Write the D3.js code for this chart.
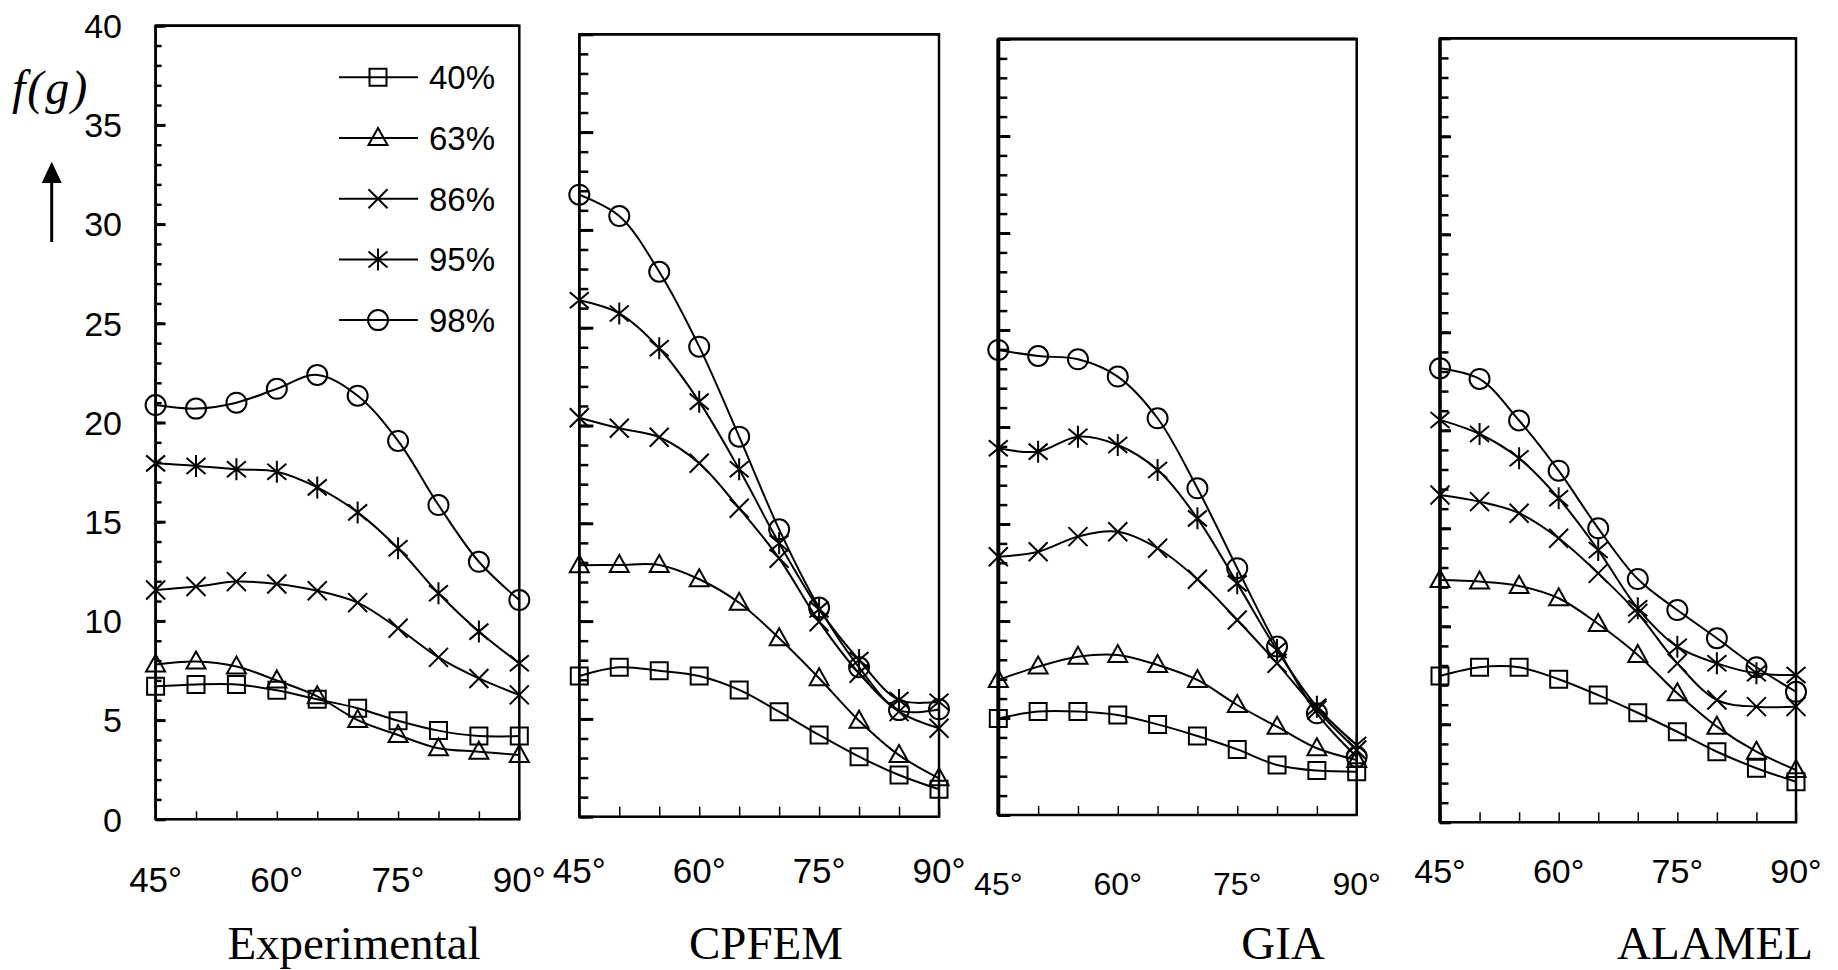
<!DOCTYPE html>
<html>
<head>
<meta charset="utf-8">
<script src="https://cdn.jsdelivr.net/npm/d3@7"></script>
<style>
body { margin: 0; background: #fff; }
svg { display: block; }
</style>
</head>
<body>
<div id="chart"></div>
<script>
// f(g) versus angle, four panels (experiment and three models)

var angles = [45, 50, 55, 60, 65, 70, 75, 80, 85, 90];
var angleLabels = [45, 60, 75, 90];
var reductions = ["40%", "63%", "86%", "95%", "98%"];
var markers = ["square", "triangle", "times", "star", "circle"];
var methods = ["Experimental", "CPFEM", "GIA", "ALAMEL"];

// Experimental
var exp40 = [6.7, 6.8, 6.8, 6.5, 6.05, 5.6, 4.97, 4.47, 4.2, 4.2];
var exp63 = [7.8, 7.95, 7.7, 7.0, 6.2, 5.0, 4.25, 3.58, 3.41, 3.24];
var exp86 = [11.56, 11.73, 11.98, 11.86, 11.52, 10.92, 9.63, 8.16, 7.1, 6.27];
var exp95 = [17.94, 17.81, 17.64, 17.52, 16.73, 15.47, 13.66, 11.39, 9.46, 7.86];
var exp98 = [20.88, 20.7, 21.0, 21.7, 22.4, 21.35, 19.07, 15.84, 12.98, 11.05];

// CPFEM
var cpf40 = [7.19, 7.64, 7.46, 7.19, 6.48, 5.37, 4.18, 3.07, 2.13, 1.4];
var cpf63 = [12.85, 12.87, 12.87, 12.14, 10.94, 9.12, 7.08, 4.91, 3.15, 1.96];
var cpf86 = [20.4, 19.86, 19.4, 18.07, 15.77, 13.21, 9.97, 7.33, 5.37, 4.52];
var cpf95 = [26.4, 25.73, 23.95, 21.22, 17.76, 13.98, 10.6, 8.01, 5.97, 5.88];
var cpf98 = [31.8, 30.71, 27.86, 24.03, 19.43, 14.69, 10.69, 7.64, 5.45, 5.49];

// GIA
var gia40 = [4.98, 5.33, 5.33, 5.15, 4.67, 4.07, 3.38, 2.58, 2.29, 2.23];
var gia63 = [6.96, 7.65, 8.16, 8.25, 7.73, 6.96, 5.67, 4.55, 3.44, 2.84];
var gia86 = [13.31, 13.57, 14.35, 14.6, 13.75, 12.15, 10.05, 7.82, 5.41, 3.35];
var gia95 = [18.9, 18.73, 19.5, 19.07, 17.78, 15.29, 11.94, 8.5, 5.58, 3.61];
var gia98 = [23.97, 23.66, 23.49, 22.6, 20.45, 16.84, 12.72, 8.68, 5.24, 3.0];

// ALAMEL
var ala40 = [7.46, 7.91, 7.91, 7.3, 6.49, 5.59, 4.62, 3.6, 2.76, 2.07];
var ala63 = [12.36, 12.28, 12.06, 11.43, 10.12, 8.54, 6.58, 4.88, 3.6, 2.67];
var ala86 = [16.7, 16.36, 15.77, 14.49, 12.7, 10.66, 8.11, 6.24, 5.9, 5.9];
var ala95 = [20.53, 19.81, 18.57, 16.53, 13.89, 10.92, 8.96, 8.11, 7.6, 7.51];
var ala98 = [23.16, 22.62, 20.5, 17.94, 15.0, 12.41, 10.83, 9.39, 7.91, 6.66];

var panelData = [
    [exp40, exp63, exp86, exp95, exp98],
    [cpf40, cpf63, cpf86, cpf95, cpf98],
    [gia40, gia63, gia86, gia95, gia98],
    [ala40, ala63, ala86, ala95, ala98]
];

// each panel was pasted in separately, so each has its own box
var layout = [
    {x0: 155.6, x1: 519.3, yTop: 25.7, yBot: 819.3, major: 10, minor: 6, xTick: 8, labBase: 892, labSize: 35, nameX: 354, left: 2.5, top: 2.5},
    {x0: 579.3, x1: 939, yTop: 34.3, yBot: 816.7, major: 14, minor: 9, xTick: 10, labBase: 883, labSize: 35, nameX: 766, left: 2.5, top: 2.5},
    {x0: 998.3, x1: 1356.7, yTop: 39, yBot: 815, major: 12, minor: 9, xTick: 9, labBase: 895, labSize: 32, nameX: 1283, left: 4, top: 3},
    {x0: 1440, x1: 1796, yTop: 38.3, yBot: 822.3, major: 11, minor: 8.5, xTick: 10, labBase: 883, labSize: 34, nameX: 1715, left: 3.5, top: 2.5}
];

var svgWidth = 1838, svgHeight = 970;

var svg = d3.select("#chart")
    .append("svg")
        .attr("width", svgWidth)
        .attr("height", svgHeight);

function drawMarker(g, type, cx, cy) {
    var path;
    if (type == "circle") {
        g.append("circle")
            .attr("cx", cx).attr("cy", cy).attr("r", 10)
            .attr("fill", "none").attr("stroke", "#000").attr("stroke-width", 2);
        return;
    }
    if (type == "square") path = "M-8.5,-8.5H8.5V8.5H-8.5Z";
    if (type == "triangle") path = "M0,-10L9.5,7L-9.5,7Z";
    if (type == "times") path = "M-9.5,-9.5L9.5,9.5M-9.5,9.5L9.5,-9.5";
    if (type == "star") path = "M-9.5,-8L9.5,8M-9.5,8L9.5,-8M0,-11V11";
    g.append("path")
        .attr("d", path)
        .attr("transform", "translate(" + cx + "," + cy + ")")
        .attr("fill", "none")
        .attr("stroke", "#000")
        .attr("stroke-width", 2);
}

layout.forEach(function(p, pi) {
    var x = d3.scaleLinear().domain([45, 90]).range([p.x0, p.x1]);
    var y = d3.scaleLinear().domain([0, 40]).range([p.yBot, p.yTop]);

    var g = svg.append("g");

    // minor and major ticks, pointing inwards
    g.append("g")
        .attr("transform", "translate(" + p.x0 + ",0)")
        .call(d3.axisLeft(y).tickValues(d3.range(0, 41, 1)).tickSize(-p.minor).tickSizeOuter(0).tickFormat(""))
        .call(function(a) { a.select(".domain").remove(); })
        .selectAll("line").attr("stroke-width", 2.5);
    g.append("g")
        .attr("transform", "translate(" + p.x0 + ",0)")
        .call(d3.axisLeft(y).tickValues(d3.range(0, 41, 5)).tickSize(-p.major).tickSizeOuter(0).tickFormat(""))
        .call(function(a) { a.select(".domain").remove(); })
        .selectAll("line").attr("stroke-width", 3);
    g.append("g")
        .attr("transform", "translate(0," + p.yBot + ")")
        .call(d3.axisBottom(x).tickValues(angles).tickSize(-p.xTick).tickSizeOuter(0).tickFormat(""))
        .call(function(a) { a.select(".domain").remove(); })
        .selectAll("line").attr("stroke-width", 1.5);

    // box
    g.append("rect")
        .attr("x", p.x0).attr("y", p.yTop)
        .attr("width", p.x1 - p.x0).attr("height", p.yBot - p.yTop)
        .attr("fill", "none").attr("stroke", "#000").attr("stroke-width", 2.5);
    g.append("line")
        .attr("x1", p.x0).attr("x2", p.x0).attr("y1", p.yTop).attr("y2", p.yBot)
        .attr("stroke", "#000").attr("stroke-width", p.left);
    g.append("line")
        .attr("x1", p.x0).attr("x2", p.x1).attr("y1", p.yTop).attr("y2", p.yTop)
        .attr("stroke", "#000").attr("stroke-width", p.top);

    // angle labels
    g.selectAll("text.ang")
        .data(angleLabels)
        .enter().append("text")
            .attr("class", "ang")
            .attr("x", function(d) { return x(d); })
            .attr("y", p.labBase)
            .attr("text-anchor", "middle")
            .style("font-family", "Arial, 'Liberation Sans', sans-serif")
            .style("font-size", p.labSize + "px")
            .text(function(d) { return d + "°"; });

    // method name
    g.append("text")
        .attr("x", p.nameX)
        .attr("y", 959)
        .attr("text-anchor", "middle")
        .style("font-family", "'Times New Roman', 'Liberation Serif', serif")
        .style("font-size", "47px")
        .text(methods[pi]);

    var line = d3.line()
        .x(function(d, i) { return x(angles[i]); })
        .y(function(d) { return y(d); })
        .curve(d3.curveCatmullRom.alpha(0.5));

    panelData[pi].forEach(function(series, si) {
        g.append("path")
            .attr("d", line(series))
            .attr("fill", "none")
            .attr("stroke", "#000")
            .attr("stroke-width", 2);
        series.forEach(function(v, i) {
            drawMarker(g, markers[si], x(angles[i]), y(v));
        });
    });

    // value labels only on the first panel
    if (pi == 0) {
        g.selectAll("text.val")
            .data(d3.range(0, 41, 5))
            .enter().append("text")
                .attr("class", "val")
                .attr("x", 122)
                .attr("y", function(d) { return y(d); })
                .attr("dy", "0.36em")
                .attr("text-anchor", "end")
                .style("font-family", "Arial, 'Liberation Sans', sans-serif")
                .style("font-size", "34px")
                .text(function(d) { return d; });
    }
});

// legend inside the first panel
var legendG = svg.append("g").attr("class", "legend");
reductions.forEach(function(r, i) {
    var ly = 77.3 + i * 60.7;
    legendG.append("line")
        .attr("x1", 339).attr("x2", 418).attr("y1", ly).attr("y2", ly)
        .attr("stroke", "#000").attr("stroke-width", 2);
    drawMarker(legendG, markers[i], 378, ly);
    legendG.append("text")
        .attr("x", 429)
        .attr("y", ly)
        .attr("dy", "0.36em")
        .style("font-family", "Arial, 'Liberation Sans', sans-serif")
        .style("font-size", "33px")
        .text(r);
});

// y title with arrow
svg.append("text")
    .attr("x", 12)
    .attr("y", 104)
    .style("font-family", "'Times New Roman', 'Liberation Serif', serif")
    .style("font-style", "italic")
    .style("font-size", "48px")
    .style("letter-spacing", "2px")
    .text("f(g)");
svg.append("line")
    .attr("x1", 51.7).attr("x2", 51.7).attr("y1", 242).attr("y2", 178)
    .attr("stroke", "#000").attr("stroke-width", 3);
svg.append("path")
    .attr("d", "M51.7,161.7L61.7,183L41.7,183Z")
    .attr("fill", "#000");
</script>
</body>
</html>
